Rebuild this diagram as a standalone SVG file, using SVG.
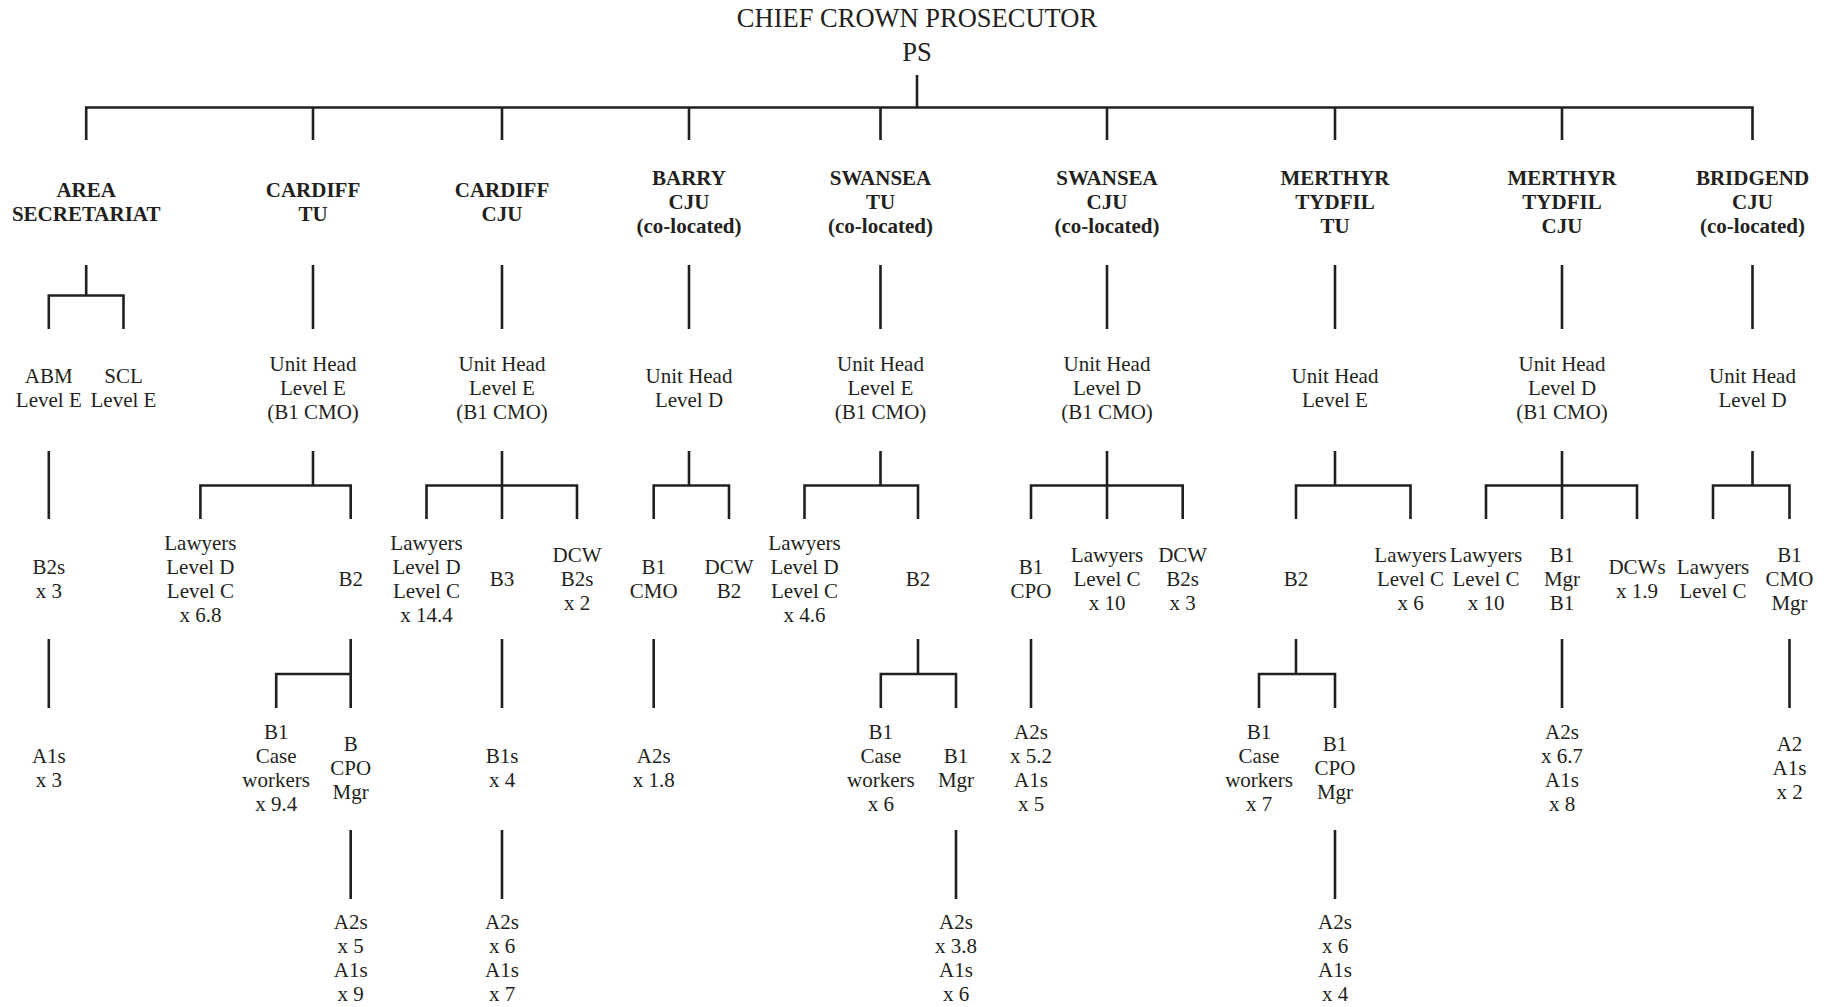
<svg xmlns="http://www.w3.org/2000/svg" width="1827" height="1007" viewBox="0 0 1827 1007">
<style>
.t{font-family:"Liberation Serif","Times New Roman",serif;font-size:21px;fill:#231f20;text-anchor:middle}
.h{font-weight:bold}
.title{font-size:26.5px}
.c path{fill:none;stroke:#231f20;stroke-width:2.6;stroke-linejoin:miter;stroke-linecap:butt}
</style>
<rect width="1827" height="1007" fill="#ffffff"/>
<g id="connectors" class="c">
<path d="M917,75V107.5M86.2,140V107.5H1752.5V140M313,107.5V140M502,107.5V140M689,107.5V140M880.5,107.5V140M1107,107.5V140M1335,107.5V140M1562,107.5V140"/>
<path d="M86.2,265V295.5M48.8,329V295.5H123.5V329"/>
<path d="M313,265V329M502,265V329M689,265V329M880.5,265V329M1107,265V329M1335,265V329M1562,265V329M1752.5,265V329"/>
<path d="M48.8,451V519"/>
<path d="M313,451V485.5M200.4,519V485.5H350.7V519"/>
<path d="M502,451V519M426.5,519V485.5H577V519"/>
<path d="M689,451V485.5M653.7,519V485.5H729V519"/>
<path d="M880.5,451V485.5M804.5,519V485.5H918V519"/>
<path d="M1107,451V519M1031,519V485.5H1182.7V519"/>
<path d="M1335,451V485.5M1296,519V485.5H1410.5V519"/>
<path d="M1562,451V519M1486,519V485.5H1637V519"/>
<path d="M1752.5,451V485.5M1713,519V485.5H1789.5V519"/>
<path d="M48.8,639V708"/>
<path d="M350.7,639V708M276.2,708V674H350.7"/>
<path d="M502,639V708"/>
<path d="M653.7,639V708"/>
<path d="M918,639V674M880.8,708V674H956V708"/>
<path d="M1031,639V708"/>
<path d="M1296,639V674M1259,708V674H1335V708"/>
<path d="M1562,639V708"/>
<path d="M1789.5,639V708"/>
<path d="M350.7,830V899M502,830V899M956,830V899M1335,830V899"/>
</g>
<g id="chief-crown-prosecutor"><text class="t title"><tspan x="917" y="27">CHIEF CROWN PROSECUTOR</tspan><tspan x="917" y="60.5">PS</tspan></text></g>

<g id="area-secretariat"><text class="t h"><tspan x="86.2" y="197">AREA</tspan><tspan x="86.2" y="221">SECRETARIAT</tspan></text></g>
<g id="cardiff-tu"><text class="t h"><tspan x="313" y="197">CARDIFF</tspan><tspan x="313" y="221">TU</tspan></text></g>
<g id="cardiff-cju"><text class="t h"><tspan x="502" y="197">CARDIFF</tspan><tspan x="502" y="221">CJU</tspan></text></g>
<g id="barry-cju"><text class="t h"><tspan x="689" y="185">BARRY</tspan><tspan x="689" y="209">CJU</tspan><tspan x="689" y="233">(co-located)</tspan></text></g>
<g id="swansea-tu"><text class="t h"><tspan x="880.5" y="185">SWANSEA</tspan><tspan x="880.5" y="209">TU</tspan><tspan x="880.5" y="233">(co-located)</tspan></text></g>
<g id="swansea-cju"><text class="t h"><tspan x="1107" y="185">SWANSEA</tspan><tspan x="1107" y="209">CJU</tspan><tspan x="1107" y="233">(co-located)</tspan></text></g>
<g id="merthyr-tu"><text class="t h"><tspan x="1335" y="185">MERTHYR</tspan><tspan x="1335" y="209">TYDFIL</tspan><tspan x="1335" y="233">TU</tspan></text></g>
<g id="merthyr-cju"><text class="t h"><tspan x="1562" y="185">MERTHYR</tspan><tspan x="1562" y="209">TYDFIL</tspan><tspan x="1562" y="233">CJU</tspan></text></g>
<g id="bridgend-cju"><text class="t h"><tspan x="1752.5" y="185">BRIDGEND</tspan><tspan x="1752.5" y="209">CJU</tspan><tspan x="1752.5" y="233">(co-located)</tspan></text></g>

<g id="abm"><text class="t"><tspan x="48.8" y="383">ABM</tspan><tspan x="48.8" y="407">Level E</tspan></text></g>
<g id="scl"><text class="t"><tspan x="123.5" y="383">SCL</tspan><tspan x="123.5" y="407">Level E</tspan></text></g>
<g id="ctu-unit-head"><text class="t"><tspan x="313" y="371">Unit Head</tspan><tspan x="313" y="395">Level E</tspan><tspan x="313" y="419">(B1 CMO)</tspan></text></g>
<g id="ccju-unit-head"><text class="t"><tspan x="502" y="371">Unit Head</tspan><tspan x="502" y="395">Level E</tspan><tspan x="502" y="419">(B1 CMO)</tspan></text></g>
<g id="barry-unit-head"><text class="t"><tspan x="689" y="383">Unit Head</tspan><tspan x="689" y="407">Level D</tspan></text></g>
<g id="stu-unit-head"><text class="t"><tspan x="880.5" y="371">Unit Head</tspan><tspan x="880.5" y="395">Level E</tspan><tspan x="880.5" y="419">(B1 CMO)</tspan></text></g>
<g id="scju-unit-head"><text class="t"><tspan x="1107" y="371">Unit Head</tspan><tspan x="1107" y="395">Level D</tspan><tspan x="1107" y="419">(B1 CMO)</tspan></text></g>
<g id="mtu-unit-head"><text class="t"><tspan x="1335" y="383">Unit Head</tspan><tspan x="1335" y="407">Level E</tspan></text></g>
<g id="mcju-unit-head"><text class="t"><tspan x="1562" y="371">Unit Head</tspan><tspan x="1562" y="395">Level D</tspan><tspan x="1562" y="419">(B1 CMO)</tspan></text></g>
<g id="bridgend-unit-head"><text class="t"><tspan x="1752.5" y="383">Unit Head</tspan><tspan x="1752.5" y="407">Level D</tspan></text></g>

<g id="abm-b2s"><text class="t"><tspan x="48.8" y="573.5">B2s</tspan><tspan x="48.8" y="597.5">x 3</tspan></text></g>
<g id="ctu-lawyers"><text class="t"><tspan x="200.4" y="549.5">Lawyers</tspan><tspan x="200.4" y="573.5">Level D</tspan><tspan x="200.4" y="597.5">Level C</tspan><tspan x="200.4" y="621.5">x 6.8</tspan></text></g>
<g id="ctu-b2"><text class="t"><tspan x="350.7" y="585.5">B2</tspan></text></g>
<g id="ccju-lawyers"><text class="t"><tspan x="426.5" y="549.5">Lawyers</tspan><tspan x="426.5" y="573.5">Level D</tspan><tspan x="426.5" y="597.5">Level C</tspan><tspan x="426.5" y="621.5">x 14.4</tspan></text></g>
<g id="ccju-b3"><text class="t"><tspan x="502" y="585.5">B3</tspan></text></g>
<g id="ccju-dcw"><text class="t"><tspan x="577" y="561.5">DCW</tspan><tspan x="577" y="585.5">B2s</tspan><tspan x="577" y="609.5">x 2</tspan></text></g>
<g id="barry-b1-cmo"><text class="t"><tspan x="653.7" y="573.5">B1</tspan><tspan x="653.7" y="597.5">CMO</tspan></text></g>
<g id="barry-dcw"><text class="t"><tspan x="729" y="573.5">DCW</tspan><tspan x="729" y="597.5">B2</tspan></text></g>
<g id="stu-lawyers"><text class="t"><tspan x="804.5" y="549.5">Lawyers</tspan><tspan x="804.5" y="573.5">Level D</tspan><tspan x="804.5" y="597.5">Level C</tspan><tspan x="804.5" y="621.5">x 4.6</tspan></text></g>
<g id="stu-b2"><text class="t"><tspan x="918" y="585.5">B2</tspan></text></g>
<g id="scju-b1-cpo"><text class="t"><tspan x="1031" y="573.5">B1</tspan><tspan x="1031" y="597.5">CPO</tspan></text></g>
<g id="scju-lawyers"><text class="t"><tspan x="1107" y="561.5">Lawyers</tspan><tspan x="1107" y="585.5">Level C</tspan><tspan x="1107" y="609.5">x 10</tspan></text></g>
<g id="scju-dcw"><text class="t"><tspan x="1182.7" y="561.5">DCW</tspan><tspan x="1182.7" y="585.5">B2s</tspan><tspan x="1182.7" y="609.5">x 3</tspan></text></g>
<g id="mtu-b2"><text class="t"><tspan x="1296" y="585.5">B2</tspan></text></g>
<g id="mtu-lawyers"><text class="t"><tspan x="1410.5" y="561.5">Lawyers</tspan><tspan x="1410.5" y="585.5">Level C</tspan><tspan x="1410.5" y="609.5">x 6</tspan></text></g>
<g id="mcju-lawyers"><text class="t"><tspan x="1486" y="561.5">Lawyers</tspan><tspan x="1486" y="585.5">Level C</tspan><tspan x="1486" y="609.5">x 10</tspan></text></g>
<g id="mcju-b1-mgr"><text class="t"><tspan x="1562" y="561.5">B1</tspan><tspan x="1562" y="585.5">Mgr</tspan><tspan x="1562" y="609.5">B1</tspan></text></g>
<g id="mcju-dcws"><text class="t"><tspan x="1637" y="573.5">DCWs</tspan><tspan x="1637" y="597.5">x 1.9</tspan></text></g>
<g id="bridgend-lawyers"><text class="t"><tspan x="1713" y="573.5">Lawyers</tspan><tspan x="1713" y="597.5">Level C</tspan></text></g>
<g id="bridgend-b1-cmo"><text class="t"><tspan x="1789.5" y="561.5">B1</tspan><tspan x="1789.5" y="585.5">CMO</tspan><tspan x="1789.5" y="609.5">Mgr</tspan></text></g>

<g id="abm-a1s"><text class="t"><tspan x="48.8" y="763">A1s</tspan><tspan x="48.8" y="787">x 3</tspan></text></g>
<g id="ctu-b1-case"><text class="t"><tspan x="276.2" y="739">B1</tspan><tspan x="276.2" y="763">Case</tspan><tspan x="276.2" y="787">workers</tspan><tspan x="276.2" y="811">x 9.4</tspan></text></g>
<g id="ctu-b-cpo"><text class="t"><tspan x="350.7" y="751">B</tspan><tspan x="350.7" y="775">CPO</tspan><tspan x="350.7" y="799">Mgr</tspan></text></g>
<g id="ccju-b1s"><text class="t"><tspan x="502" y="763">B1s</tspan><tspan x="502" y="787">x 4</tspan></text></g>
<g id="barry-a2s"><text class="t"><tspan x="653.7" y="763">A2s</tspan><tspan x="653.7" y="787">x 1.8</tspan></text></g>
<g id="stu-b1-case"><text class="t"><tspan x="880.8" y="739">B1</tspan><tspan x="880.8" y="763">Case</tspan><tspan x="880.8" y="787">workers</tspan><tspan x="880.8" y="811">x 6</tspan></text></g>
<g id="stu-b1-mgr"><text class="t"><tspan x="956" y="763">B1</tspan><tspan x="956" y="787">Mgr</tspan></text></g>
<g id="scju-a2s"><text class="t"><tspan x="1031" y="739">A2s</tspan><tspan x="1031" y="763">x 5.2</tspan><tspan x="1031" y="787">A1s</tspan><tspan x="1031" y="811">x 5</tspan></text></g>
<g id="mtu-b1-case"><text class="t"><tspan x="1259" y="739">B1</tspan><tspan x="1259" y="763">Case</tspan><tspan x="1259" y="787">workers</tspan><tspan x="1259" y="811">x 7</tspan></text></g>
<g id="mtu-b1-cpo"><text class="t"><tspan x="1335" y="751">B1</tspan><tspan x="1335" y="775">CPO</tspan><tspan x="1335" y="799">Mgr</tspan></text></g>
<g id="mcju-a2s"><text class="t"><tspan x="1562" y="739">A2s</tspan><tspan x="1562" y="763">x 6.7</tspan><tspan x="1562" y="787">A1s</tspan><tspan x="1562" y="811">x 8</tspan></text></g>
<g id="bridgend-a2"><text class="t"><tspan x="1789.5" y="751">A2</tspan><tspan x="1789.5" y="775">A1s</tspan><tspan x="1789.5" y="799">x 2</tspan></text></g>

<g id="ctu-a2s"><text class="t"><tspan x="350.7" y="929">A2s</tspan><tspan x="350.7" y="953">x 5</tspan><tspan x="350.7" y="977">A1s</tspan><tspan x="350.7" y="1001">x 9</tspan></text></g>
<g id="ccju-a2s"><text class="t"><tspan x="502" y="929">A2s</tspan><tspan x="502" y="953">x 6</tspan><tspan x="502" y="977">A1s</tspan><tspan x="502" y="1001">x 7</tspan></text></g>
<g id="stu-a2s"><text class="t"><tspan x="956" y="929">A2s</tspan><tspan x="956" y="953">x 3.8</tspan><tspan x="956" y="977">A1s</tspan><tspan x="956" y="1001">x 6</tspan></text></g>
<g id="mtu-a2s"><text class="t"><tspan x="1335" y="929">A2s</tspan><tspan x="1335" y="953">x 6</tspan><tspan x="1335" y="977">A1s</tspan><tspan x="1335" y="1001">x 4</tspan></text></g>
</svg>
